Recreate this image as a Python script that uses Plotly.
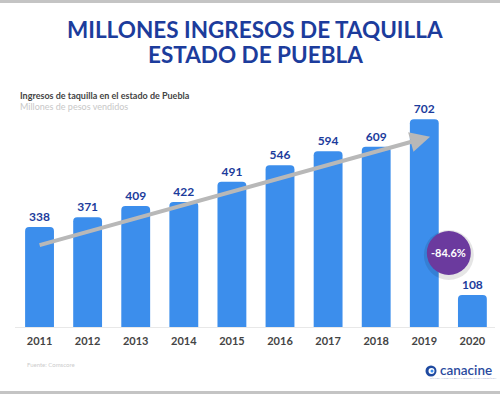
import plotly.graph_objects as go

years = [2011, 2012, 2013, 2014, 2015, 2016, 2017, 2018, 2019, 2020]
values = [338, 371, 409, 422, 491, 546, 594, 609, 702, 108]
year_labels = [str(y) for y in years]
change_label = "-84.6%"

W, H = 500, 394
ML, MR, MT, MB = 15, 5, 110, 67
PH = H - MT - MB


def py(pix):
    """convert pixel y (from top) to paper y"""
    return (H - MB - pix) / PH


def px(pix):
    return (pix - ML) / (W - ML - MR)


TITLE_BLUE = "#1c3c9c"
fig = go.Figure()
fig.add_trace(go.Bar(
    x=years, y=values, width=0.6,
    marker=dict(color="#3c8eec", line=dict(width=0)),
    text=[str(v) for v in values], textposition="outside",
    textfont=dict(family="Lato", size=12, color=TITLE_BLUE, weight="bold"),
    cliponaxis=False, hoverinfo="skip",
))

annotations = [
    dict(text="MILLONES INGRESOS DE TAQUILLA", x=0.5, xref="paper", y=py(29.5), yref="paper",
         showarrow=False, font=dict(family="Lato", size=22.5, color=TITLE_BLUE, weight="bold"),
         xanchor="center", yanchor="middle"),
    dict(text="ESTADO DE PUEBLA", x=0.5, xref="paper", y=py(54), yref="paper",
         showarrow=False, font=dict(family="Lato", size=22.5, color=TITLE_BLUE, weight="bold"),
         xanchor="center", yanchor="middle"),
    dict(text="Ingresos de taquilla en el estado de Puebla", x=px(18), xref="paper", y=py(95), yref="paper",
         showarrow=False, font=dict(family="Lato", size=9, color="#444444", weight="bold"),
         xanchor="left", yanchor="middle"),
    dict(text="Millones de pesos vendidos", x=px(18), xref="paper", y=py(107), yref="paper",
         showarrow=False, font=dict(family="Lato", size=9, color="#c8c8c8"),
         xanchor="left", yanchor="middle"),
    dict(text="Fuente: Comscore", x=px(25), xref="paper", y=py(364), yref="paper",
         showarrow=False, font=dict(family="Lato", size=6, color="#cccccc"),
         xanchor="left", yanchor="middle"),
    dict(text="canacine", x=px(438), xref="paper", y=py(370), yref="paper",
         showarrow=False, font=dict(family="Lato", size=13.5, color="#2a4a9e", weight=600),
         xanchor="left", yanchor="middle"),
    dict(text="CÁMARA NACIONAL DE LA INDUSTRIA CINEMATOGRÁFICA", x=px(463), xref="paper", y=py(378.5), yref="paper",
         showarrow=False, font=dict(family="Lato", size=2.4, color="#9aa6c8"),
         xanchor="center", yanchor="middle"),
    # trend arrow
    dict(x=2019.12, y=643, xref="x", yref="y", ax=2010.97, ay=275, axref="x", ayref="y",
         showarrow=True, arrowhead=2, arrowsize=1.0, arrowwidth=4, arrowcolor="#b8b8b8", text=""),
    dict(text="<b>" + change_label + "</b>", x=2019.51, y=250, xref="x", yref="y",
         showarrow=False, font=dict(family="Lato", size=11, color="white"),
         xanchor="center", yanchor="middle"),
]

shapes = [
    dict(type="rect", xref="paper", yref="paper", x0=-0.1, x1=1.1, y0=py(3), y1=py(-1),
         fillcolor="#c4c4c4", line=dict(width=0), layer="above"),
    dict(type="rect", xref="paper", yref="paper", x0=-0.1, x1=1.1, y0=py(395), y1=py(391),
         fillcolor="#c4c4c4", line=dict(width=0), layer="above"),
    # shadow of badge
    dict(type="circle", xref="x", yref="y", xsizemode="pixel", ysizemode="pixel",
         xanchor=2019.51, yanchor=250, x0=-25, x1=25, y0=-27, y1=23,
         fillcolor="rgba(0,0,0,0.10)", line=dict(width=0), layer="above"),
    dict(type="circle", xref="x", yref="y", xsizemode="pixel", ysizemode="pixel",
         xanchor=2019.51, yanchor=250, x0=-22, x1=22, y0=-22, y1=22,
         fillcolor="#6b3a9e", line=dict(width=0), layer="above"),
    # logo icon
    dict(type="circle", xref="paper", yref="paper", xsizemode="pixel", ysizemode="pixel",
         xanchor=px(431), yanchor=py(371), x0=-5.5, x1=5.5, y0=-5.5, y1=5.5,
         fillcolor="#1f4aa0", line=dict(width=0)),
    dict(type="circle", xref="paper", yref="paper", xsizemode="pixel", ysizemode="pixel",
         xanchor=px(431.5), yanchor=py(371), x0=-3, x1=3, y0=-3, y1=3,
         fillcolor="white", line=dict(width=0)),
    dict(type="circle", xref="paper", yref="paper", xsizemode="pixel", ysizemode="pixel",
         xanchor=px(432), yanchor=py(371), x0=-1.5, x1=1.5, y0=-1.5, y1=1.5,
         fillcolor="#3c8eec", line=dict(width=0)),
]

fig.update_layout(
    width=W, height=H,
    margin=dict(l=ML, r=MR, t=MT, b=MB),
    paper_bgcolor="white", plot_bgcolor="white",
    showlegend=False, barcornerradius=4,
    annotations=annotations, shapes=shapes,
    xaxis=dict(range=[2010.49, 2020.47], tickmode="array", tickvals=years, ticktext=year_labels,
               showgrid=False, zeroline=False, showline=True, linecolor="#e8e8e8", linewidth=1,
               ticks="outside", ticklen=4, tickcolor="rgba(0,0,0,0)",
               tickfont=dict(family="Lato", size=11, color="#444444", weight="bold"), fixedrange=True),
    yaxis=dict(range=[0, 733], visible=False, fixedrange=True),
)

fig.write_html("out.html", config={"displayModeBar": False},
               post_script="document.body.style.margin='0';document.body.style.overflow='hidden';")
